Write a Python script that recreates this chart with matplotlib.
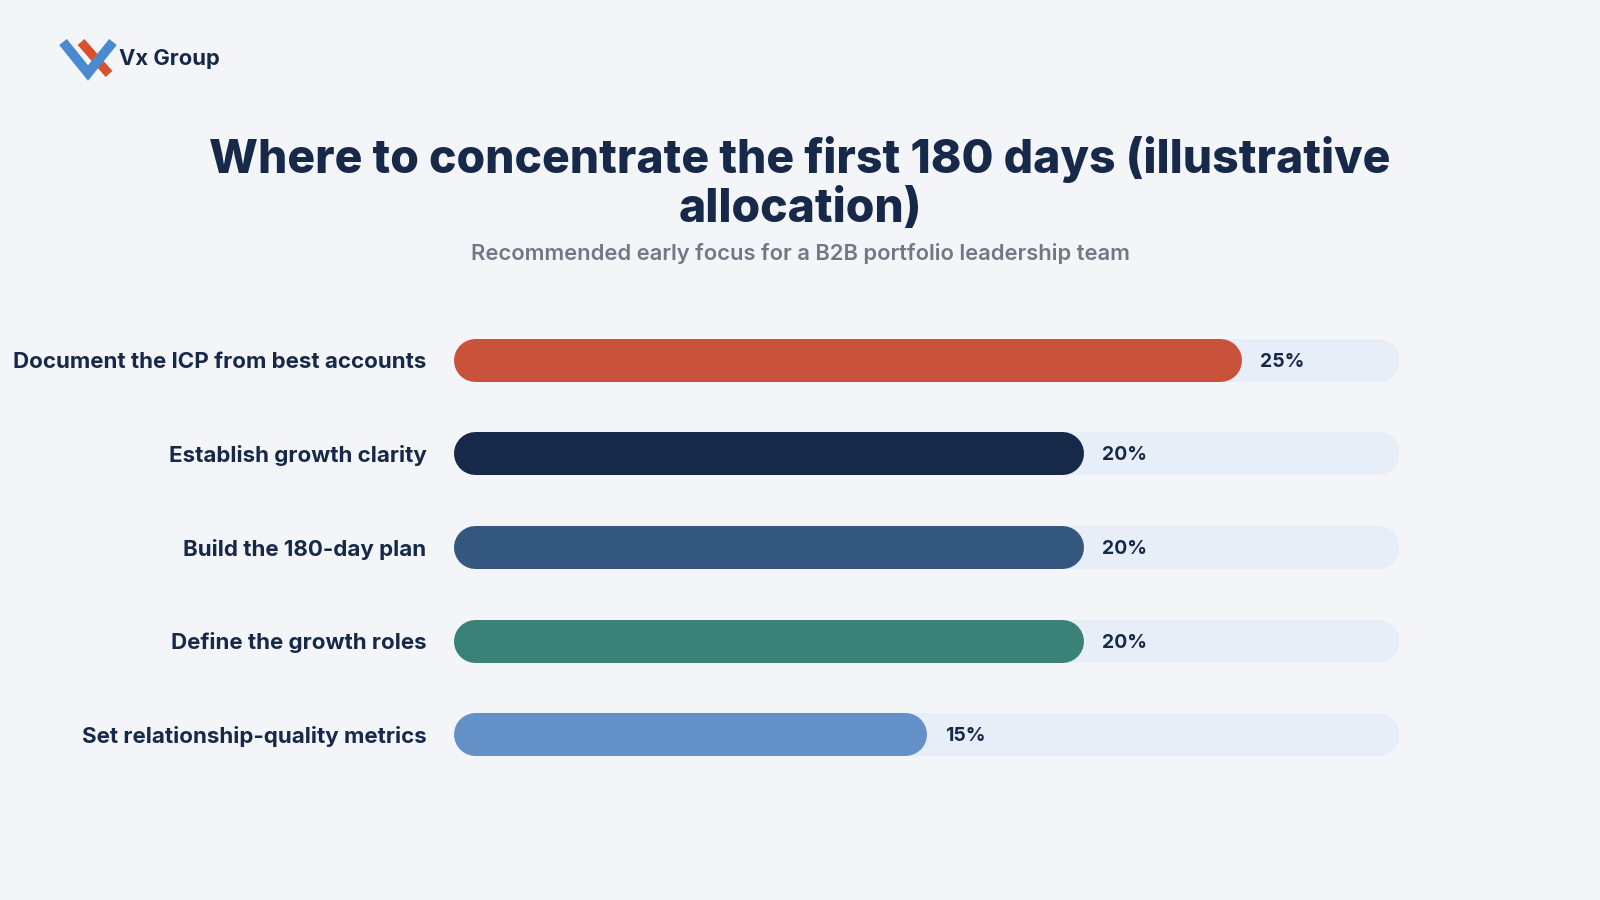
import numpy as np
import matplotlib.pyplot as plt

plt.rcParams['font.family'] = ['Inter', 'DejaVu Sans']

# data
categories = [
    'Document the ICP from best accounts',
    'Establish growth clarity',
    'Build the 180-day plan',
    'Define the growth roles',
    'Set relationship-quality metrics',
]
shares = [25, 20, 20, 20, 15]
value_labels = ['25%', '20%', '20%', '20%', '15%']
bar_colors = ['#C8533A', '#172949', '#33577E', '#3A8178', '#6591C9']
track_max = 30

title = 'Where to concentrate the first 180 days (illustrative\nallocation)'
subtitle = 'Recommended early focus for a B2B portfolio leadership team'

navy = '#172949'
bg = '#F3F5F8'
track_color = '#E7EEF8'

fig = plt.figure(figsize=(16, 9), dpi=100, facecolor=bg)

# overlay axes in pixel coordinates for title + logo
ov = fig.add_axes([0, 0, 1, 1])
ov.set_xlim(0, 1600)
ov.set_ylim(900, 0)
ov.axis('off')
ov.patch.set_alpha(0)

ov.text(800, 184, title, ha='center', va='center', fontsize=33.3, fontweight='heavy',
        color=navy, linespacing=1.15)
ov.text(800, 254, subtitle, ha='center', va='center', fontsize=15.8, fontweight='semibold',
        color='#717784')

# logo
ov.plot([81, 109], [42, 74], color='#D9512C', lw=6.5, solid_capstyle='butt')
ov.plot([63, 88, 113], [42, 73, 42], color='#4A8AD0', lw=7, solid_joinstyle='miter',
        solid_capstyle='butt')
ov.text(119, 59, 'Vx Group', ha='left', va='center', fontsize=15.8, fontweight='bold', color=navy)

# bar axes
ax = fig.add_axes([453 / 1600, 1 - 781 / 900, 946 / 1600, 468 / 900])
ax.set_xlim(0, track_max)
ax.set_ylim(len(categories) - 0.5, -0.5)
ax.axis('off')
ax.patch.set_alpha(0)

bar_px = 43
lw_pt = bar_px * 72 / 100
r = (bar_px / 2) / (946 / track_max)  # half bar height in data units

y = np.arange(len(categories))
for i in range(len(categories)):
    ax.plot([r, track_max - r], [y[i], y[i]], color=track_color, lw=lw_pt,
            solid_capstyle='round', zorder=1)
    ax.plot([r, shares[i] - r], [y[i], y[i]], color=bar_colors[i], lw=lw_pt,
            solid_capstyle='round', zorder=2)
    ax.annotate(value_labels[i], (shares[i], y[i]), xytext=(13.5, -1.5),
                textcoords='offset points', ha='left', va='center',
                fontsize=14, fontweight='bold', color=navy, zorder=3)
    ax.annotate(categories[i], (0, y[i]), xytext=(-19, -1.5), textcoords='offset points',
                ha='right', va='center', fontsize=16.1, fontweight='bold', color=navy,
                annotation_clip=False)

fig.savefig('out.png', dpi=100, facecolor=bg)
